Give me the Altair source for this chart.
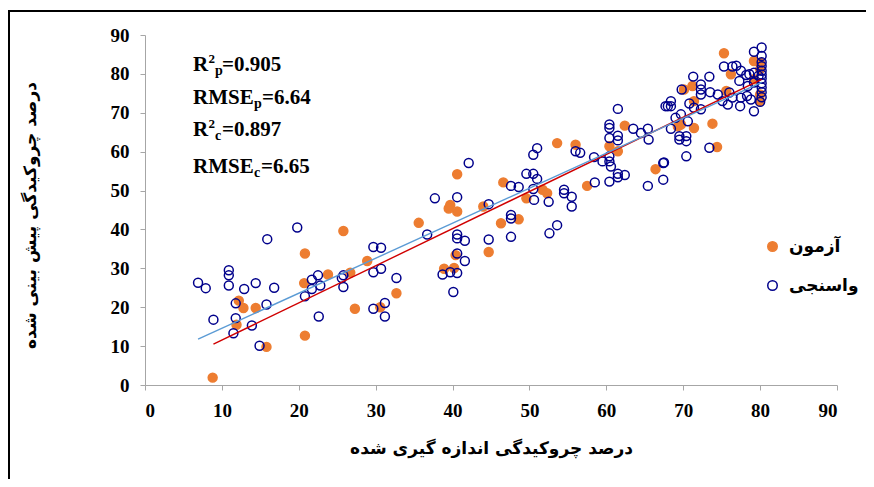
import altair as alt
import pandas as pd

# ---------------- data ----------------
series_names = ["آزمون", "واسنجی"]

test_x = [8.8, 15.8, 12.2, 12.8, 14.4, 11.9, 20.8, 20.7, 20.8, 25.8,
          35.6, 39.7, 40.6, 39.5, 44.0, 46.3, 44.7, 28.9, 23.8, 26.7,
          32.7, 27.3, 30.6, 40.4, 38.9, 40.2, 40.6, 46.6, 53.6, 56.0,
          62.4, 60.4, 61.5, 49.6, 51.7, 52.3, 57.5, 66.4, 48.6, 69.7,
          75.3, 79.2, 76.2, 80.0, 80.0, 80.0, 80.0, 71.2, 70.1, 71.4,
          75.6, 71.4, 73.8, 74.4, 69.3, 79.2]
test_y = [1.9, 9.8, 21.7, 19.8, 19.8, 15.5, 33.8, 26.2, 12.7, 39.6,
          41.7, 46.3, 44.6, 45.4, 45.9, 41.6, 34.2, 31.9, 28.4, 28.9,
          23.6, 19.6, 20.0, 33.4, 29.9, 30.1, 54.2, 52.1, 62.2, 61.8,
          66.7, 61.4, 60.1, 48.0, 50.2, 49.3, 51.2, 55.5, 42.6, 67.0,
          85.3, 83.3, 79.9, 82.9, 81.2, 73.0, 74.7, 76.9, 76.0, 73.0,
          75.6, 66.1, 67.2, 61.2, 66.5, 78.6]

cal_x = [6.9, 7.9, 10.9, 10.9, 10.9, 12.9, 14.4, 16.8, 15.9, 19.8,
         11.8, 15.8, 8.9, 11.8, 13.9, 11.5, 14.9, 21.7, 21.7, 22.5,
         22.6, 20.8, 22.8,
         42.1, 37.7, 40.6, 44.7, 36.7, 40.6, 40.6, 41.6, 44.7, 40.6,
         41.6, 29.7, 30.7, 29.7, 30.7, 32.7, 25.8, 25.8, 25.6, 38.7,
         39.7, 40.6, 40.1, 29.7, 31.2, 31.2,
         61.5, 67.7, 68.4, 60.4, 60.4, 63.5, 64.5, 65.4, 65.5, 61.5,
         61.5, 60.4, 51.0, 50.5, 56.0, 56.6, 58.4, 59.5, 60.4, 60.6,
         60.4, 61.5, 61.5, 62.4, 60.4, 58.5, 67.4, 67.4, 65.4, 49.6,
         50.5, 51.0, 47.6, 48.6, 50.5, 50.6, 52.5, 54.5, 54.5, 55.5,
         55.5, 47.6, 47.6, 53.6, 52.6, 47.6,
         80.2, 80.2, 80.2, 80.2, 80.2, 80.2, 80.2, 80.2, 80.2, 80.2,
         80.2, 80.0, 79.2, 75.3, 76.4, 76.9, 77.5, 78.2, 78.6, 79.2,
         79.8, 79.2, 78.4, 77.3, 71.3, 73.4, 72.3, 72.3, 69.8, 73.5,
         72.3, 74.5, 76.0, 76.4, 77.5, 78.3, 78.8, 75.8, 77.4, 75.1,
         79.2, 68.4, 68.0, 70.8, 71.4, 72.3, 69.7, 69.0, 70.6, 68.4,
         69.5, 70.4, 69.5, 70.4, 73.4, 70.4, 67.5]
cal_y = [26.3, 24.9, 29.5, 28.2, 25.6, 24.7, 26.2, 25.0, 37.5, 40.5,
         21.0, 20.7, 16.8, 17.2, 15.3, 13.3, 10.1, 27.1, 24.7, 28.2,
         17.6, 22.8, 25.6,
         57.1, 48.0, 48.3, 46.5, 38.7, 38.7, 37.7, 37.1, 37.4, 33.8,
         31.9, 35.5, 35.3, 29.0, 29.9, 27.5, 28.2, 25.2, 27.5, 28.4,
         29.0, 28.8, 23.9, 19.6, 21.1, 17.6,
         71.0, 71.7, 71.7, 67.0, 66.1, 65.9, 64.8, 65.9, 63.1, 64.1,
         62.9, 63.5, 60.9, 59.2, 60.1, 59.7, 58.6, 57.5, 57.5, 56.2,
         58.8, 54.3, 53.4, 54.0, 52.3, 52.1, 57.1, 52.8, 51.2, 54.3,
         54.3, 53.0, 51.2, 50.9, 50.4, 47.6, 47.1, 50.2, 49.3, 48.4,
         45.9, 43.7, 42.8, 41.1, 39.0, 38.1,
         86.8, 84.6, 83.0, 82.0, 80.8, 79.8, 78.8, 77.6, 76.5, 75.3,
         74.0, 72.8, 85.7, 81.9, 81.9, 82.1, 80.8, 79.7, 79.9, 80.3,
         79.5, 77.8, 76.9, 78.2, 79.3, 79.3, 77.3, 76.0, 76.0, 75.3,
         74.7, 74.7, 75.2, 73.9, 73.9, 74.3, 73.4, 72.1, 71.7, 73.0,
         70.4, 73.0, 71.7, 72.4, 71.3, 70.9, 69.6, 68.7, 67.8, 65.9,
         64.0, 64.0, 63.1, 62.7, 61.0, 58.8, 57.2]

cal_line_x = [6.9, 80.2]
cal_line_y = [11.8, 77.8]
test_line_x = [8.9, 80.2]
test_line_y = [10.5, 78.6]

axis_ticks = [0, 10, 20, 30, 40, 50, 60, 70, 80, 90]

x_title = "درصد چروکیدگی اندازه گیری شده"
y_title = "درصد چروکیدگی پیش بینی شده"

# ---------------- build ----------------
ORANGE = "#ED7D31"
NAVY = "#00008B"

pts = pd.concat([
    pd.DataFrame({"x": test_x, "y": test_y, "series": series_names[0]}),
    pd.DataFrame({"x": cal_x, "y": cal_y, "series": series_names[1]}),
], ignore_index=True)

W, H = 692, 350
PAD_R = 29
xs = alt.Scale(domain=[0, 90], nice=False, zero=False)
ys = alt.Scale(domain=[0, 90], nice=False, zero=False)
x_axis = alt.Axis(values=axis_ticks, title=x_title, titleY=68,
                  titleBaseline="alphabetic", labelOverlap=False)
y_axis = alt.Axis(values=axis_ticks, title=y_title, titleX=-106,
                  titleY=H / 2 + 5, titleAngle=270, labelOverlap=False)
X = alt.X("x:Q", scale=xs, axis=x_axis)
Y = alt.Y("y:Q", scale=ys, axis=y_axis)

legend = alt.Legend(title=None, orient="none", legendX=619, legendY=203,
                    labelFont="DejaVu Sans", labelFontWeight="bold",
                    labelFontSize=17, labelColor="black", rowPadding=21,
                    labelOffset=8, symbolStrokeWidth=1.5, symbolSize=90,
                    padding=0)

points = alt.Chart(pts).mark_point(filled=False, strokeWidth=1.5, size=80, opacity=1).encode(
    x=X, y=Y,
    stroke=alt.Stroke("series:N", scale=alt.Scale(domain=series_names, range=[ORANGE, NAVY]),
                      legend=legend),
    fill=alt.Fill("series:N", scale=alt.Scale(domain=series_names, range=[ORANGE, "transparent"]),
                  legend=legend),
)

cal_line = alt.Chart(pd.DataFrame({"x": cal_line_x, "y": cal_line_y})).mark_line(
    color="#5B9BD5", strokeWidth=1.4).encode(x=X, y=Y)
test_line = alt.Chart(pd.DataFrame({"x": test_line_x, "y": test_line_y})).mark_line(
    color="#D00000", strokeWidth=1.4).encode(x=X, y=Y)

one = pd.DataFrame({"a": [0]})


def txt(s, px, py, size=21):
    return alt.Chart(one).mark_text(
        text=s, font="Liberation Serif", fontWeight="bold", fontSize=size,
        align="left", baseline="alphabetic", color="black"
    ).encode(x=alt.value(px - 145), y=alt.value(py - 35))


ann = [
    txt("R", 193, 71), txt("2", 208.5, 63, 13), txt("p", 215, 75, 14), txt("=0.905", 222, 71),
    txt("RMSE", 193, 104), txt("p", 254, 108, 14), txt("=6.64", 262, 104),
    txt("R", 193, 136), txt("2", 208.5, 128, 13), txt("c", 215, 140, 14), txt("=0.897", 222, 136),
    txt("RMSE", 193, 173), txt("c", 254, 177, 14), txt("=6.65", 261, 173),
]

frame_left = alt.Chart(one).mark_rule(color="black", strokeWidth=2).encode(
    x=alt.value(9 - 145), y=alt.value(11 - 36), y2=alt.value(H + 94))
frame_top = alt.Chart(one).mark_rule(color="black", strokeWidth=2).encode(
    y=alt.value(11 - 35), x=alt.value(8 - 145), x2=alt.value(W + PAD_R))

chart = alt.layer(frame_left, frame_top, points, test_line, cal_line, *ann).properties(
    width=W, height=H,
    autosize=alt.AutoSizeParams(type="none"),
    padding={"left": 137, "top": 27, "right": PAD_R, "bottom": 94},
).configure_view(stroke=None).configure_axis(
    grid=False, domainColor="#A6A6A6", tickColor="#A6A6A6", tickSize=5,
    labelFont="Liberation Serif", labelFontWeight="bold", labelFontSize=19,
    labelColor="black", labelPadding=11,
    titleFont="DejaVu Sans", titleFontWeight="bold", titleFontSize=17, titleColor="black",
)

chart.save("out.html", embed_options={"renderer": "svg", "actions": False})
